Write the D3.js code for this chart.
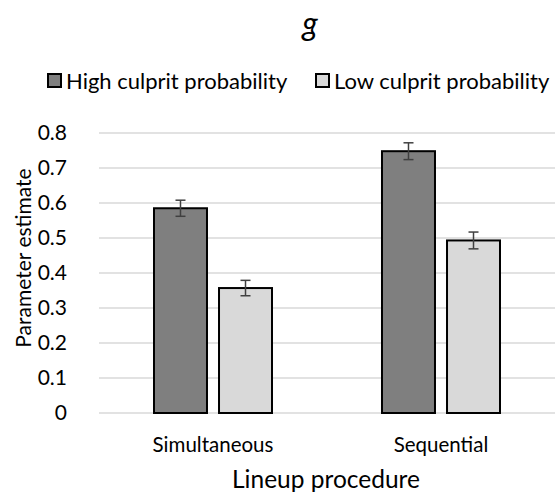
<!DOCTYPE html>
<html lang="en">
<head>
<meta charset="utf-8">
<title>g</title>
<script src="https://d3js.org/d3.v7.min.js"></script>
<style>
  body { margin: 0; background: #fff; }
  text { font-family: Lato, "Open Sans", sans-serif; fill: #000; }
</style>
</head>
<body>
<script>
// data
var procedures = ["Simultaneous", "Sequential"];
var seriesNames = ["High culprit probability", "Low culprit probability"];
var highValues = [0.585, 0.748];
var highErrors = [0.023, 0.024];
var lowValues = [0.357, 0.493];
var lowErrors = [0.022, 0.024];
var yTicks = [0, 0.1, 0.2, 0.3, 0.4, 0.5, 0.6, 0.7, 0.8];

var colors = ["#7f7f7f", "#d9d9d9"];

var width = 556, height = 499;
var margin = {top: 133, right: 1, bottom: 86, left: 99};

var svg = d3.select("body").append("svg")
    .attr("width", width)
    .attr("height", height);

var data = [];
procedures.forEach(function(p, i) {
  data.push({proc: p, series: seriesNames[0], value: highValues[i], err: highErrors[i]});
  data.push({proc: p, series: seriesNames[1], value: lowValues[i], err: lowErrors[i]});
});

var x = d3.scaleBand()
    .domain(procedures)
    .range([margin.left, width - margin.right]);

var groupW = 118;
var xInner = d3.scaleBand()
    .domain(seriesNames)
    .range([0, groupW])
    .paddingInner(0.185);

var y = d3.scaleLinear()
    .domain([0, 0.8])
    .range([height - margin.bottom, margin.top]);

// gridlines
svg.append("g")
  .selectAll("line")
  .data(yTicks)
  .enter().append("line")
    .attr("x1", margin.left)
    .attr("x2", width - margin.right)
    .attr("y1", function(d) { return y(d); })
    .attr("y2", function(d) { return y(d); })
    .attr("stroke", "#d9d9d9")
    .attr("stroke-width", 1.5);

// y axis labels
var yAxis = svg.append("g")
    .attr("transform", "translate(" + (margin.left - 32) + ",0)")
    .call(d3.axisLeft(y).tickValues(yTicks).tickSize(0).tickPadding(0)
      .tickFormat(function(d) { return d === 0 ? "0" : d3.format(".1f")(d); }));
yAxis.select(".domain").remove();
yAxis.selectAll("text")
    .attr("font-size", "21px")
    .attr("font-family", "Lato, sans-serif")
    .attr("fill", "#000");

// bars
var groupOffset = (x.bandwidth() - groupW) / 2;
svg.append("g")
  .selectAll("rect")
  .data(data)
  .enter().append("rect")
    .attr("x", function(d) { return x(d.proc) + groupOffset + xInner(d.series); })
    .attr("width", xInner.bandwidth())
    .attr("y", function(d) { return y(d.value); })
    .attr("height", function(d) { return y(0) - y(d.value); })
    .attr("fill", function(d) { return colors[seriesNames.indexOf(d.series)]; })
    .attr("stroke", "#000")
    .attr("stroke-width", 2);

// error bars
var eb = svg.append("g")
  .selectAll("g")
  .data(data)
  .enter().append("g")
    .attr("transform", function(d) {
      return "translate(" + (x(d.proc) + groupOffset + xInner(d.series) + xInner.bandwidth() / 2) + ",0)";
    })
    .attr("stroke", "#404040")
    .attr("stroke-width", 1.5);
eb.append("line")
    .attr("y1", function(d) { return y(d.value + d.err); })
    .attr("y2", function(d) { return y(d.value - d.err); });
eb.append("line")
    .attr("x1", -5).attr("x2", 5)
    .attr("y1", function(d) { return y(d.value + d.err); })
    .attr("y2", function(d) { return y(d.value + d.err); });
eb.append("line")
    .attr("x1", -5).attr("x2", 5)
    .attr("y1", function(d) { return y(d.value - d.err); })
    .attr("y2", function(d) { return y(d.value - d.err); });

// category labels
svg.append("g")
  .selectAll("text")
  .data(procedures)
  .enter().append("text")
    .attr("x", function(d) { return x(d) + x.bandwidth() / 2; })
    .attr("y", 452)
    .attr("text-anchor", "middle")
    .attr("font-size", "20.5px")
    .text(function(d) { return d; });

// axis titles
svg.append("text")
    .attr("x", 326)
    .attr("y", 488)
    .attr("text-anchor", "middle")
    .attr("font-size", "24.5px")
    .text("Lineup procedure");

svg.append("text")
    .attr("transform", "translate(31,258) rotate(-90)")
    .attr("text-anchor", "middle")
    .attr("font-size", "21px")
    .text("Parameter estimate");

// title
svg.append("text")
    .attr("x", 310)
    .attr("y", 35)
    .attr("text-anchor", "middle")
    .attr("font-size", "32px")
    .attr("font-style", "italic")
    .text("g");

// legend
var legendX = [47, 315];
var legend = svg.append("g")
  .selectAll("g")
  .data(seriesNames)
  .enter().append("g")
    .attr("transform", function(d, i) { return "translate(" + legendX[i] + ",73)"; });
legend.append("rect")
    .attr("x", 1).attr("y", 1)
    .attr("width", 13).attr("height", 13)
    .attr("fill", function(d, i) { return colors[i]; })
    .attr("stroke", "#000")
    .attr("stroke-width", 2);
legend.append("text")
    .attr("x", 19)
    .attr("y", 15.5)
    .attr("font-size", "22px")
    .text(function(d) { return d; });
</script>
</body>
</html>
